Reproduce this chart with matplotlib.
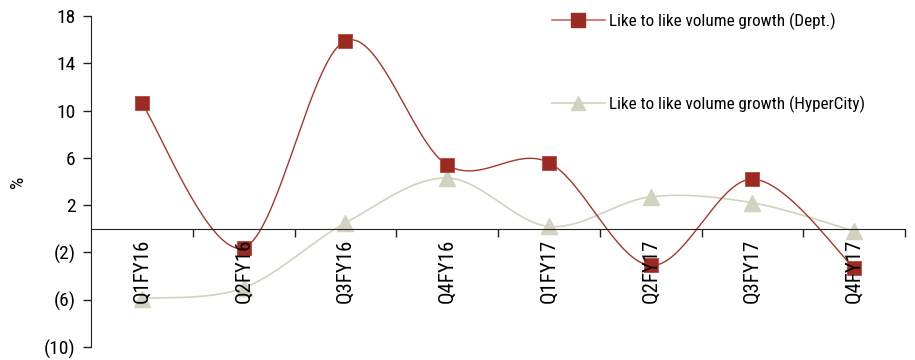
import numpy as np
import matplotlib
matplotlib.use("Agg")
import matplotlib.pyplot as plt
from matplotlib.ticker import FixedLocator, FuncFormatter
from matplotlib.lines import Line2D

plt.rcParams['font.family'] = ['Roboto Condensed', 'Archivo Narrow', 'Barlow Condensed', 'DejaVu Sans']

categories = ["Q1FY16", "Q2FY16", "Q3FY16", "Q4FY16", "Q1FY17", "Q2FY17", "Q3FY17", "Q4FY17"]
dept = [10.6, -1.6, 15.9, 5.4, 5.6, -3.1, 4.2, -3.3]
hyper = [-5.9, -5.0, 0.5, 4.3, 0.2, 2.7, 2.2, -0.2]
yticks = [18, 14, 10, 6, 2, -2, -6, -10]

RED = "#9B2A22"
RED_LINE = "#A8362C"
GREY = "#D3D1BF"


def smooth(xs, ys, n=40):
    xs = np.asarray(xs, float)
    ys = np.asarray(ys, float)
    P = np.column_stack([xs, ys])
    out = []
    m = len(P)
    for i in range(m - 1):
        p0 = P[i - 1] if i > 0 else P[i]
        p1 = P[i]
        p2 = P[i + 1]
        p3 = P[i + 2] if i + 2 < m else P[i + 1]
        c1 = p1 + (p2 - p0) / 6.0
        c2 = p2 - (p3 - p1) / 6.0
        t = np.linspace(0, 1, n)[:, None]
        seg = ((1 - t) ** 3) * p1 + 3 * ((1 - t) ** 2) * t * c1 + 3 * (1 - t) * t ** 2 * c2 + t ** 3 * p2
        out.append(seg if i == 0 else seg[1:])
    s = np.vstack(out)
    return s[:, 0], s[:, 1]


fig = plt.figure(figsize=(9.15, 3.6), dpi=100)
ax = fig.add_axes([91 / 915, 1 - 347 / 360, (905 - 91) / 915, (347 - 16) / 360])
ax.set_axisbelow(False)

x = np.arange(len(categories))

sx, sy = smooth(x, hyper)
ax.plot(sx, sy, color=GREY, lw=1.2, zorder=1.2)
ax.plot(x, hyper, ls="none", marker="^", ms=11, color=GREY, zorder=1.3)

sx, sy = smooth(x, dept)
ax.plot(sx, sy, color=RED_LINE, lw=1.0, zorder=1.4)
ax.plot(x, dept, ls="none", marker="s", ms=10.5, color=RED, markeredgecolor="#B8453C",
        markeredgewidth=0.6, zorder=1.5)

for s in ["top", "right"]:
    ax.spines[s].set_visible(False)
ax.spines["bottom"].set_position(("data", 0))
ax.spines["bottom"].set_color("#222222")
ax.spines["left"].set_color("#222222")

ax.yaxis.set_major_locator(FixedLocator(yticks))
ax.yaxis.set_major_formatter(FuncFormatter(lambda v, p: f"({abs(int(v))})" if v < 0 else f"{int(v)}"))
ax.tick_params(axis="y", direction="out", length=6, width=1, labelsize=14, pad=5, color="#222222")

ax.set_xticks(x)
ax.set_xticklabels(categories, rotation=90, va="top", ha="center", fontsize=15)
ax.set_xticks(np.arange(1, len(categories) + 1) - 0.5, minor=True)
ax.tick_params(axis="x", which="major", length=0, pad=7)
ax.tick_params(axis="x", which="minor", direction="out", length=6, width=1, color="#222222")

ax.set_xlim(-0.5, len(categories) - 0.5)
ax.set_ylim(-10, 18)

ax.set_ylabel("%", fontsize=14, labelpad=12)

h1 = Line2D([], [], color="#C86A62", lw=1.2, marker="s", ms=10, markerfacecolor=RED, markeredgecolor=RED)
h2 = Line2D([], [], color=GREY, lw=1.2, marker="^", ms=10, markerfacecolor=GREY, markeredgecolor=GREY)
fig.legend([h1, h2], ["Like to like volume growth (Dept.)", "Like to like volume growth (HyperCity)"],
           loc="upper left", bbox_to_anchor=(552 / 915, 1 - 13 / 360), frameon=False,
           fontsize=12.3, labelspacing=3.85, handlelength=3.1, handletextpad=0.25, borderpad=0,
           borderaxespad=0)

fig.savefig("out.png", dpi=100)
